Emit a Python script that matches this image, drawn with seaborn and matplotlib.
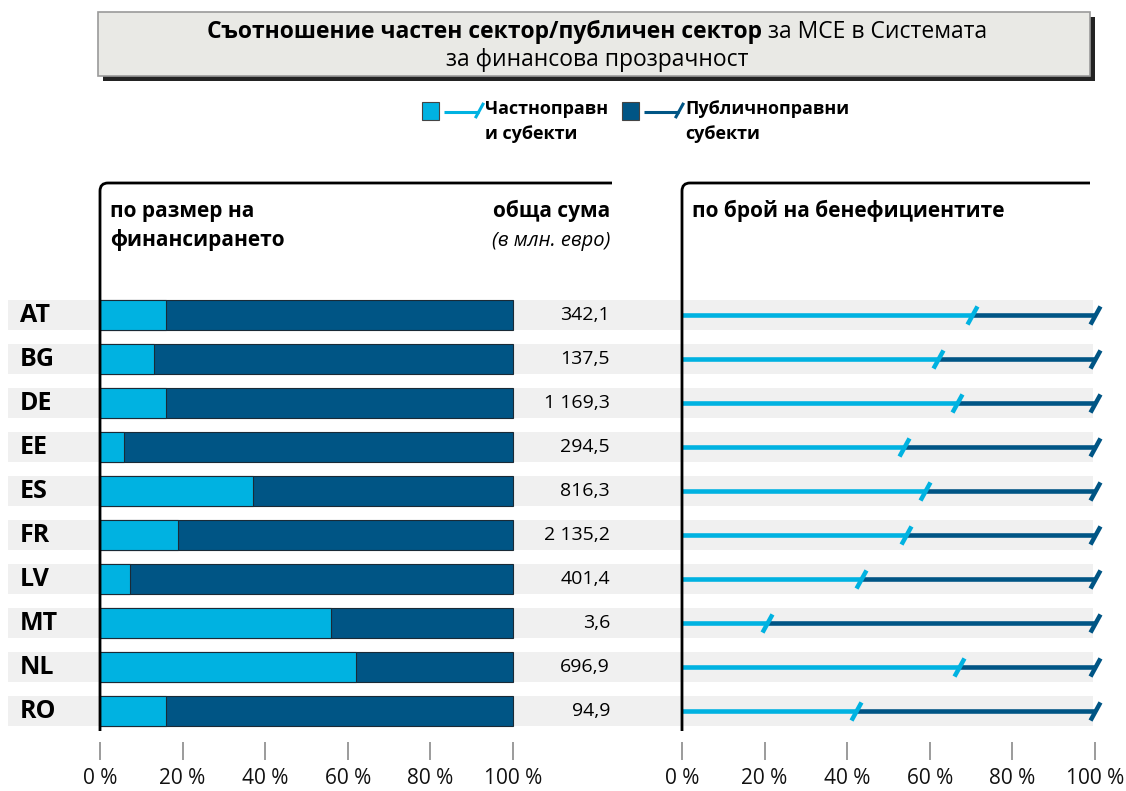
import numpy as np
import pandas as pd
import matplotlib
matplotlib.use("Agg")
import matplotlib.pyplot as plt
import seaborn as sns
from matplotlib.path import Path
from matplotlib.patches import PathPatch, Rectangle

# ---------------- data ----------------
countries = ["AT", "BG", "DE", "EE", "ES", "FR", "LV", "MT", "NL", "RO"]
private_funding_pct = [16.0, 13.0, 16.0, 5.9, 37.0, 19.0, 7.2, 55.9, 62.0, 15.9]
total_funding_meur = [342.1, 137.5, 1169.3, 294.5, 816.3, 2135.2, 401.4, 3.6, 696.9, 94.9]
private_beneficiaries_pct = [70.1, 62.1, 66.7, 53.8, 58.8, 54.2, 43.3, 20.5, 67.1, 42.2]
x_ticks = [0, 20, 40, 60, 80, 100]
x_tick_labels = ["0 %", "20 %", "40 %", "60 %", "80 %", "100 %"]

title_bold = "Съотношение частен сектор/публичен сектор"
title_rest = " за МСЕ в Системата"
title_line2 = "за финансова прозрачност"
legend_private = ["Частноправн", "и субекти"]
legend_public = ["Публичноправни", "субекти"]
left_header = ["по размер на", "финансирането"]
total_header = ["обща сума", "(в млн. евро)"]
right_header = "по брой на бенефициентите"

LIGHT = "#00b2e1"
DARK = "#005585"
BAND = "#f0f0f0"

sns.set_theme(style="white")
plt.rcParams["font.family"] = ["Open Sans", "DejaVu Sans"]
plt.rcParams["text.color"] = "black"

W, H = 1126, 791
fig = plt.figure(figsize=(W / 100, H / 100), dpi=100)
fig.patch.set_facecolor("white")

# overlay axes in pixel coordinates for title box and legend
bg = fig.add_axes([0, 0, 1, 1])
bg.set_xlim(0, W)
bg.set_ylim(H, 0)
bg.axis("off")
bg.set_zorder(5)
bg.patch.set_alpha(0)

# title box with shadow
bg.add_patch(Rectangle((103, 17), 992, 64, facecolor="#232323", edgecolor="none", zorder=1))
bg.add_patch(Rectangle((98, 12), 992, 64, facecolor="#e9e9e5", edgecolor="#9a9a9a", lw=1.2, zorder=2))

renderer = fig.canvas.get_renderer()
t1 = bg.text(0, 32, title_bold, fontsize=16.5, fontweight="bold", va="center", ha="left", zorder=3)
t2 = bg.text(0, 32, title_rest, fontsize=16.5, va="center", ha="left", zorder=3)
w1 = t1.get_window_extent(renderer).width
w2 = t2.get_window_extent(renderer).width
x0 = 597 - (w1 + w2) / 2
t1.set_x(x0)
t2.set_x(x0 + w1)
bg.text(597, 60, title_line2, fontsize=16.5, va="center", ha="center", zorder=3)

# slash marker
slash = Path([(-0.55, -1.0), (0.55, 1.0)], [Path.MOVETO, Path.LINETO])

# legend
for (sq_x, color, lines) in [(422, LIGHT, legend_private), (622, DARK, legend_public)]:
    bg.add_patch(Rectangle((sq_x, 102), 17, 18, facecolor=color, edgecolor="#444444", lw=0.8, zorder=3))
    bg.plot([sq_x + 22, sq_x + 57], [112, 112], color=color, lw=2.2, solid_capstyle="butt", zorder=3)
    bg.plot([sq_x + 57], [110], marker=slash, markersize=11, mew=2.2, color=color, zorder=3)
    bg.text(sq_x + 63, 109, lines[0], fontsize=13, fontweight="bold", va="center", ha="left", zorder=3)
    bg.text(sq_x + 63, 134, lines[1], fontsize=13, fontweight="bold", va="center", ha="left", zorder=3)

# ---------------- geometry helpers ----------------
PX = 4.13          # pixels per percent
ROW0, ROWSTEP = 315, 44
AX_TOP, AX_BOT = 178, 742
y_top = (AX_TOP - ROW0) / ROWSTEP
y_bot = (AX_BOT - ROW0) / ROWSTEP
ax_bottom_frac = 1 - AX_BOT / H
ax_height_frac = (AX_BOT - AX_TOP) / H

def frame(ax, x_end_px, zero_px):
    x_end = (x_end_px - zero_px) / PX
    yt = (183 - ROW0) / ROWSTEP
    yb = (731 - ROW0) / ROWSTEP
    rx, ry = 8 / PX, 8 / ROWSTEP
    verts = [(0, yb), (0, yt + ry), (0, yt), (rx, yt), (x_end, yt)]
    codes = [Path.MOVETO, Path.LINETO, Path.CURVE3, Path.CURVE3, Path.LINETO]
    ax.add_patch(PathPatch(Path(verts, codes), facecolor="none", edgecolor="black",
                           lw=2.0, clip_on=False, zorder=6))

def style_axis(ax):
    for s in ax.spines.values():
        s.set_visible(False)
    ax.set_xticks(x_ticks)
    ax.set_xticklabels(x_tick_labels)
    ax.tick_params(axis="x", bottom=True, length=13, width=1.2, color="#8a8a8a",
                   pad=6, labelsize=15, labelcolor="#111111")
    ax.set_yticks([])
    ax.set_xlabel("")
    ax.set_ylabel("")
    ax.set_ylim(y_bot, y_top)
    ax.patch.set_alpha(0)

df = pd.DataFrame({
    "country": countries,
    "private": private_funding_pct,
    "total": [100.0] * len(countries),
    "amount": total_funding_meur,
    "benef": private_beneficiaries_pct,
})

# ---------------- left panel ----------------
L0 = 100
axL = fig.add_axes([8 / W, ax_bottom_frac, 604 / W, ax_height_frac])
sns.barplot(data=df, x="total", y="country", color=DARK, width=0.7, saturation=1,
            edgecolor="#1a2a36", linewidth=0.8, ax=axL, zorder=3)
sns.barplot(data=df, x="private", y="country", color=LIGHT, width=0.7, saturation=1,
            edgecolor="#1a2a36", linewidth=0.8, ax=axL, zorder=4)
axL.set_xlim((8 - L0) / PX, (612 - L0) / PX)
for i in range(len(countries)):
    axL.axhspan(i - 0.35, i + 0.35, color=BAND, zorder=0, lw=0)
for i, (c, v) in enumerate(zip(countries, total_funding_meur)):
    axL.text((20 - L0) / PX, i, c, fontsize=18, fontweight="bold", ha="left", va="center",
             color="black", zorder=7)
    s = f"{v:,.1f}".replace(",", " ").replace(".", ",")
    axL.text((610 - L0) / PX, i, s, fontsize=14, ha="right", va="center", color="black", zorder=7)
style_axis(axL)
frame(axL, 612, L0)
axL.text((110 - L0) / PX, (211 - ROW0) / ROWSTEP, left_header[0], fontsize=15,
         fontweight="bold", ha="left", va="center")
axL.text((110 - L0) / PX, (240 - ROW0) / ROWSTEP, left_header[1], fontsize=15,
         fontweight="bold", ha="left", va="center")
axL.text((610 - L0) / PX, (211 - ROW0) / ROWSTEP, total_header[0], fontsize=15,
         fontweight="bold", ha="right", va="center")
axL.text((610 - L0) / PX, (241 - ROW0) / ROWSTEP, total_header[1], fontsize=14.5,
         fontstyle="italic", ha="right", va="center")

# ---------------- right panel ----------------
R0 = 682
axR = fig.add_axes([612 / W, ax_bottom_frac, (R0 + 100 * PX - 612) / W, ax_height_frac])
axR.set_xlim((612 - R0) / PX, 100)
for i in range(len(countries)):
    axR.axhspan(i - 0.35, i + 0.35, xmin=0, xmax=(1093 - 612) / (R0 + 100 * PX - 612),
                color=BAND, zorder=0, lw=0)
ypos = np.arange(len(countries))
axR.hlines(ypos, 0, df["benef"], color=LIGHT, lw=3.3, zorder=3)
axR.hlines(ypos, df["benef"], df["total"], color=DARK, lw=3.3, zorder=3)
sns.scatterplot(x=df["total"], y=ypos, marker=slash, s=170, linewidth=3.2,
                edgecolor=DARK, color=DARK, ax=axR, zorder=4, clip_on=False, legend=False)
sns.scatterplot(x=df["benef"], y=ypos, marker=slash, s=170, linewidth=3.2,
                edgecolor=LIGHT, color=LIGHT, ax=axR, zorder=5, clip_on=False, legend=False)
style_axis(axR)
frame(axR, 1090, R0)
axR.text((692 - R0) / PX, (211 - ROW0) / ROWSTEP, right_header, fontsize=15,
         fontweight="bold", ha="left", va="center")

fig.savefig("out.png", dpi=100, facecolor="white")
